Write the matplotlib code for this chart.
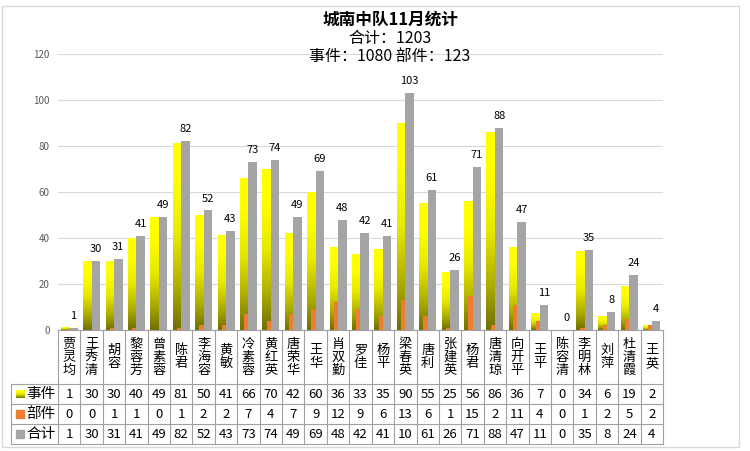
import matplotlib
matplotlib.use("Agg")
import matplotlib.pyplot as plt
import numpy as np
from matplotlib.colors import LinearSegmentedColormap
from matplotlib.patches import Rectangle

plt.rcParams['font.family'] = ['Noto Sans CJK SC', 'DejaVu Sans']

# data
names = ["贾灵均", "王秀清", "胡容", "黎蓉芳", "曾素蓉", "陈君", "李海容", "黄敏", "冷素蓉",
         "黄红英", "唐荣华", "王华", "肖双勤", "罗佳", "杨平", "梁春英", "唐利", "张建英",
         "杨君", "唐清琼", "向开平", "王平", "陈容清", "李明林", "刘萍", "杜清霞", "王英"]
events = [1, 30, 30, 40, 49, 81, 50, 41, 66, 70, 42, 60, 36, 33, 35, 90, 55, 25, 56, 86, 36, 7, 0, 34, 6, 19, 2]
parts = [0, 0, 1, 1, 0, 1, 2, 2, 7, 4, 7, 9, 12, 9, 6, 13, 6, 1, 15, 2, 11, 4, 0, 1, 2, 5, 2]
totals = [1, 30, 31, 41, 49, 82, 52, 43, 73, 74, 49, 69, 48, 42, 41, 103, 61, 26, 71, 88, 47, 11, 0, 35, 8, 24, 4]
series_names = ["事件", "部件", "合计"]

title = "城南中队11月统计"
sub1 = "合计：1203"
sub2 = "事件：1080 部件：123"

W, H = 750, 451
fig = plt.figure(figsize=(7.5, 4.51), dpi=100)


def fx(px):
    return px / W


def fy(py):
    return 1 - py / H


left, right = 58, 663
top, base = 54, 330
n = len(names)
x = np.arange(n)
w = 0.38

ax = fig.add_axes([fx(left), fy(base), fx(right - left), (base - top) / H])

yellow = LinearSegmentedColormap.from_list(
    "ev", [(0, "#707000"), (0.2, "#a8a800"), (0.5, "#e8e800"), (0.8, "#ffff00"), (1, "#ffff00")])
grad = np.linspace(0, 1, 64).reshape(-1, 1)

# 事件 bars with vertical gradient
for xi, v in zip(x, events):
    if v > 0:
        ax.imshow(grad, cmap=yellow, origin='lower', extent=[xi - w, xi, 0, v],
                  aspect='auto', zorder=2, interpolation='bilinear')
ax.bar(x, parts, width=w, color="#ed7d31", zorder=3)
ax.bar(x + w / 2, totals, width=w, color="#a5a5a5", zorder=4)

for xi, t in zip(x, totals):
    ax.text(xi + w / 2, t + 3, str(t), ha='center', va='bottom', fontsize=8, color='#000000', zorder=5)

ax.set_xlim(-0.5, n - 0.5)
ax.set_ylim(0, 120)
ax.set_yticks(range(0, 121, 20))
ax.set_xticks([])
ax.yaxis.grid(True, color='#d9d9d9', lw=0.8)
ax.set_axisbelow(True)
for s in ax.spines.values():
    s.set_visible(False)
ax.tick_params(axis='y', length=0, labelsize=7, labelcolor='#595959', pad=6)

# data table below the bars
tb_top, tb_bot = 330, 444
tax = fig.add_axes([fx(left), fy(tb_bot), fx(right - left), (tb_bot - tb_top) / H])
tax.set_xlim(-0.5, n - 0.5)
tax.set_ylim(tb_bot, tb_top)
tax.axis('off')
unit = (right - left) / n
x_leg = -0.5 - (left - 11) / unit

line_kw = dict(color='#a0a0a0', lw=0.8, clip_on=False)
for i in range(n + 1):
    tax.plot([i - 0.5, i - 0.5], [tb_top, tb_bot], **line_kw)
tax.plot([x_leg, x_leg], [384, tb_bot], **line_kw)
tax.plot([-0.5, n - 0.5], [tb_top, tb_top], **line_kw)
for yy in [384, 404, 424, 444]:
    tax.plot([x_leg, n - 0.5], [yy, yy], **line_kw)

for i, nm in enumerate(names):
    tax.text(i, 357, "\n".join(nm), ha='center', va='center', fontsize=9.5,
             linespacing=1.0, color='#000000')

rows = [(events, 394), (parts, 414), (totals, 434)]
swatch = ["grad", "#ed7d31", "#a5a5a5"]
for (vals, yc), lab, sw in zip(rows, series_names, swatch):
    for i, v in enumerate(vals):
        txt = str(v)
        if len(txt) > 2:  # excel cut the 3-digit cell off
            txt = txt[:2]
        tax.text(i, yc, txt, ha='center', va='center', fontsize=9.5, color='#000000')
    sx0 = x_leg + 5 / unit
    sx1 = x_leg + 13 / unit
    if sw == "grad":
        tax.imshow(grad, cmap=yellow, origin='lower', extent=[sx0, sx1, yc + 4, yc - 4],
                   aspect='auto', clip_on=False)
    else:
        tax.add_patch(Rectangle((sx0, yc - 4), sx1 - sx0, 8, color=sw, clip_on=False))
    tax.text(x_leg + 15 / unit, yc, lab, ha='left', va='center', fontsize=10.5, color='#000000')
tax.set_xlim(-0.5, n - 0.5)
tax.set_ylim(tb_bot, tb_top)

fig.text(fx(390), fy(20), title, ha='center', va='center', fontsize=12, weight='bold', color='#000000')
fig.text(fx(390), fy(39), sub1, ha='center', va='center', fontsize=11.5, color='#000000')
fig.text(fx(390), fy(57), sub2, ha='center', va='center', fontsize=11.5, color='#000000')

fig.add_artist(Rectangle((fx(2), fy(447)), fx(737), (447 - 6) / H, transform=fig.transFigure,
                         fill=False, edgecolor='#d9d9d9', lw=1))

fig.savefig('out.png', dpi=100)
